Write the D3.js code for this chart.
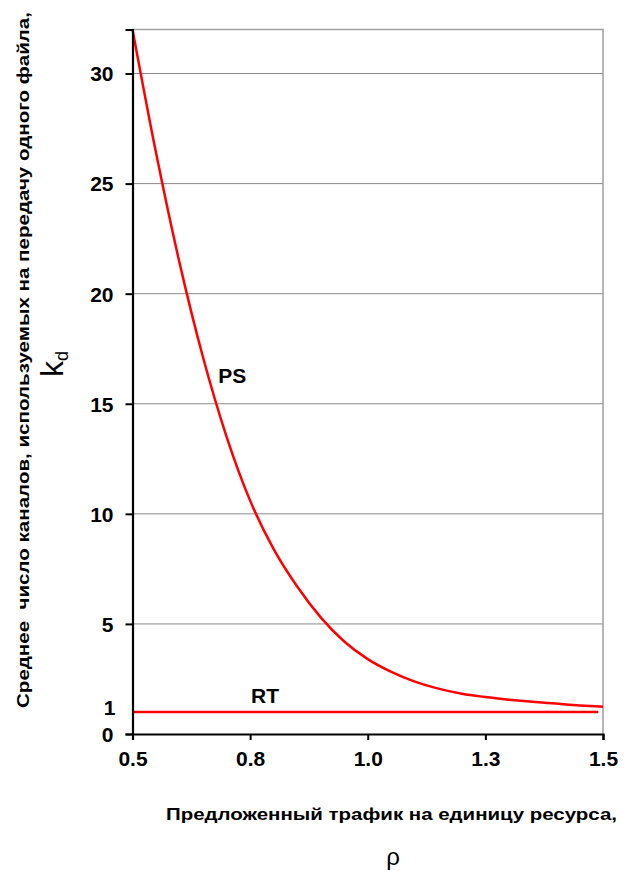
<!DOCTYPE html>
<html>
<head>
<meta charset="utf-8">
<script src="https://cdn.jsdelivr.net/npm/d3@7"></script>
<style>
  html, body { margin: 0; padding: 0; background: #fff; }
  svg text { font-family: "Liberation Sans", Arial, sans-serif; }
</style>
</head>
<body>
<svg id="chart" width="637" height="871"></svg>
<script>
// Offered traffic per resource unit, rho
const rho = [0.50, 0.55, 0.60, 0.65, 0.70, 0.75, 0.80, 0.85, 0.90, 0.95, 1.00,
             1.05, 1.10, 1.15, 1.20, 1.25, 1.30, 1.35, 1.40, 1.45, 1.50];
// Mean number of channels per file transfer, processor sharing
const kdPS = [32.0, 26.4, 21.4, 17.1, 13.5, 10.6, 8.4, 6.7, 5.3, 4.2, 3.4,
              2.82, 2.38, 2.06, 1.83, 1.68, 1.56, 1.46, 1.38, 1.30, 1.24];
// Real-time traffic: always one channel
const rhoRT = [0.50, 1.49];
const kdRT = [1, 1];

const xTicks = [0.5, 0.75, 1.0, 1.25, 1.5];
const xTickLabels = ["0.5", "0.8", "1.0", "1.3", "1.5"];
const yTicks = [0, 1, 5, 10, 15, 20, 25, 30];
const yGrid = [5, 10, 15, 20, 25, 30];

const margin = { left: 132.5, right: 34, top: 29.5, bottom: 137 };
const W = 637, H = 871;
const svg = d3.select("#chart");

const x = d3.scaleLinear().domain([0.5, 1.5]).range([margin.left, W - margin.right]);
const y = d3.scaleLinear().domain([0, 32]).range([H - margin.bottom, margin.top]);

// Horizontal gridlines
svg.append("g").selectAll("line").data(yGrid).join("line")
  .attr("x1", x(0.5)).attr("x2", x(1.5))
  .attr("y1", d => y(d)).attr("y2", d => y(d))
  .attr("stroke", "#8a8a8a").attr("stroke-width", 1);

// Top and right plot border
svg.append("path")
  .attr("d", `M${x(0.5)},${y(32)}H${x(1.5)}V${y(0)}`)
  .attr("fill", "none").attr("stroke", "#a0a0a0").attr("stroke-width", 1.5);

// Curves
const line = d3.line().x(d => x(d[0])).y(d => y(d[1])).curve(d3.curveMonotoneX);
svg.append("path").datum(d3.zip(rho, kdPS)).attr("d", line)
  .attr("fill", "none").attr("stroke", "#ff0000").attr("stroke-width", 2.5);
svg.append("path").datum(d3.zip(rhoRT, kdRT)).attr("d", line)
  .attr("fill", "none").attr("stroke", "#ff0000").attr("stroke-width", 2.5);

// Y axis
const yAxis = svg.append("g").attr("transform", `translate(${x(0.5)},0)`)
  .call(d3.axisLeft(y).tickValues(yTicks).tickSize(7).tickPadding(13).tickFormat(d3.format("d")));
yAxis.select(".domain").attr("stroke", "#000").attr("stroke-width", 2.2);
yAxis.selectAll(".tick line").attr("stroke", "#000").attr("stroke-width", 2)
  .filter(d => d === 1).remove();
yAxis.selectAll(".tick text")
  .attr("font-family", "Liberation Sans, Arial, sans-serif")
  .attr("font-size", 21).attr("font-weight", "bold").attr("fill", "#000")
  .attr("dy", d => d === 1 ? "0.13em" : "0.35em")
  .attr("x", d => d === 1 ? -17 : -19);

// X axis
const xAxis = svg.append("g").attr("transform", `translate(0,${y(0)})`)
  .call(d3.axisBottom(x).tickValues(xTicks).tickSize(6).tickPadding(11)
    .tickFormat((d, i) => xTickLabels[i]));
xAxis.select(".domain").attr("stroke", "#000").attr("stroke-width", 2.2);
xAxis.selectAll(".tick line").attr("stroke", "#000").attr("stroke-width", 2);
xAxis.selectAll(".tick text")
  .attr("font-family", "Liberation Sans, Arial, sans-serif")
  .attr("font-size", 21).attr("font-weight", "bold").attr("fill", "#000");

// Series labels
svg.append("text").attr("x", x(0.682)).attr("y", y(15.95))
  .attr("font-size", 21).attr("font-weight", "bold").text("PS");
svg.append("text").attr("x", x(0.752)).attr("y", y(1.4))
  .attr("font-size", 21).attr("font-weight", "bold").text("RT");

// Y axis title
svg.append("text")
  .attr("transform", "translate(29,708) rotate(-90)")
  .attr("font-size", 17).attr("font-weight", "bold")
  .attr("textLength", 696).attr("lengthAdjust", "spacingAndGlyphs")
  .style("white-space", "pre")
  .text("Среднее  число каналов, используемых на передачу одного файла,");

const kd = svg.append("text")
  .attr("transform", "translate(63,364) rotate(-90)")
  .attr("text-anchor", "middle");
kd.append("tspan").attr("font-size", 32).text("k");
kd.append("tspan").attr("font-size", 18).attr("dy", 5).text("d");

// X axis title
svg.append("text")
  .attr("x", 166).attr("y", 820)
  .attr("font-size", 17).attr("font-weight", "bold")
  .attr("textLength", 451).attr("lengthAdjust", "spacingAndGlyphs")
  .text("Предложенный трафик на единицу ресурса,");

svg.append("text")
  .attr("x", 393).attr("y", 865).attr("text-anchor", "middle")
  .attr("font-size", 24).text("ρ");
</script>
</body>
</html>
